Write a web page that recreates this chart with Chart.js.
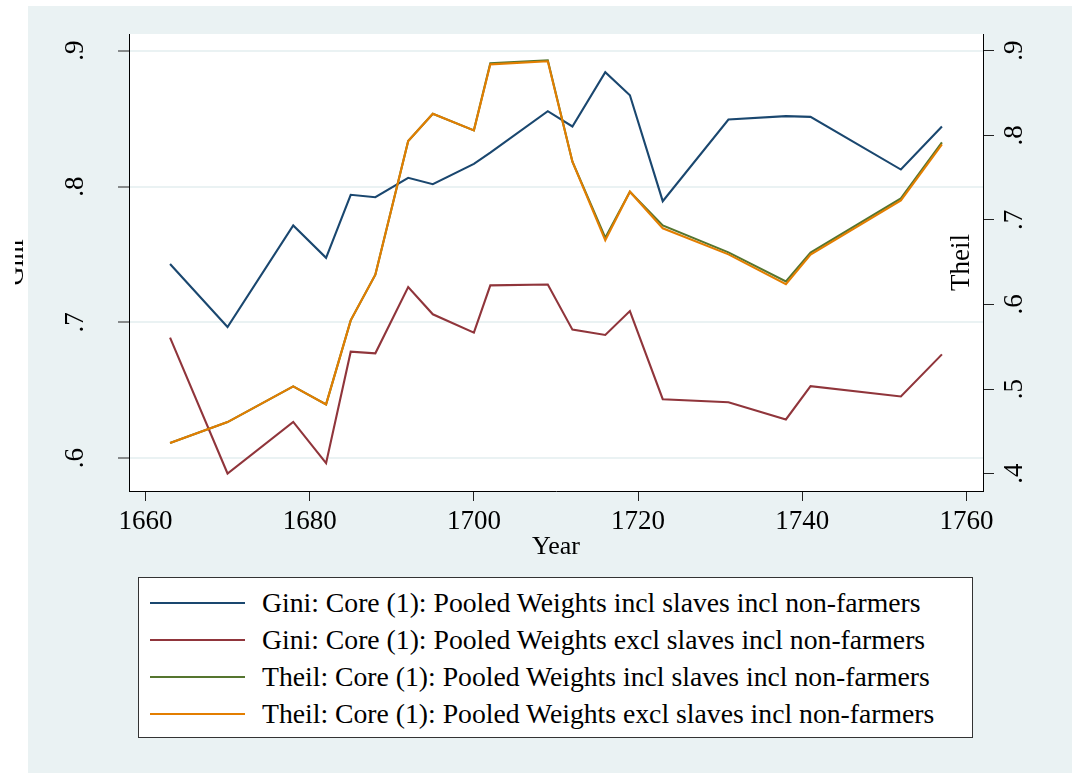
<!DOCTYPE html>
<html>
<head>
<meta charset="utf-8">
<script src="https://cdn.jsdelivr.net/npm/chart.js@4.4.1/dist/chart.umd.min.js"></script>
<style>
    body { margin: 0; background: #fff; }
    #wrap { position: relative; width: 1072px; height: 773px; }
    #chart { position: absolute; left: 0; top: 0; }
    #legend {
        position: absolute; left: 138px; top: 577px; width: 835px; height: 161px;
        box-sizing: border-box; background: #fff; border: 1px solid #333;
        padding-top: 6px; font-family: 'Liberation Serif', serif; font-size: 27.7px; color: #000;
    }
    .row { position: relative; height: 37.1px; line-height: 37.1px; padding-left: 123px; white-space: nowrap; }
    .swatch { position: absolute; left: 11px; top: 17.5px; width: 95px; height: 2px; }
</style>
</head>
<body>
<div id="wrap">
    <canvas id="chart" width="1072" height="773"></canvas>
    <div id="legend"></div>
</div>
<script>
// survey years
const years = [1663, 1670, 1678, 1682, 1685, 1688, 1692, 1695, 1700, 1702, 1709, 1712, 1716, 1719, 1723, 1731, 1738, 1741, 1752, 1757]

// Gini, left axis
const giniInclSlaves = [.743, .6965, .7713, .7475, .7939, .7921, .8064, .8017, .8167, .825, .8555, .8442, .8842, .8672, .7892, .8493, .8518, .8513, .8125, .8442]
const giniExclSlaves = [.6887, .5887, .6267, .5963, .6784, .6772, .726, .7059, .6924, .7272, .7278, .6946, .6907, .7083, .6434, .6412, .6285, .653, .6454, .6764]

// Theil, right axis
const theilInclSlaves = [.4362, .461, .5032, .4819, .5812, .6352, .7931, .8255, .8058, .885, .8886, .7688, .679, .7333, .6935, .6616, .6273, .6612, .7254, .7916]
const theilExclSlaves = [.4362, .461, .5032, .4819, .5812, .6352, .7931, .8255, .8058, .8838, .8874, .7688, .6758, .7333, .69, .6592, .6241, .6589, .723, .7892]

const seriesLabels = [
    'Gini: Core (1): Pooled Weights incl slaves incl non-farmers',
    'Gini: Core (1): Pooled Weights excl slaves incl non-farmers',
    'Theil: Core (1): Pooled Weights incl slaves incl non-farmers',
    'Theil: Core (1): Pooled Weights excl slaves incl non-farmers'
]
const seriesColours = ['#1a476f', '#90353b', '#55752f', '#e37e00']

const yearTicks = [1660, 1680, 1700, 1720, 1740, 1760]
const giniTicks = [.6, .7, .8, .9]
const giniTickLabels = ['.6', '.7', '.8', '.9']
const theilTicks = [.4, .5, .6, .7, .8, .9]
const theilTickLabels = ['.4', '.5', '.6', '.7', '.8', '.9']

const xTitle = 'Year'
const leftTitle = 'Gini'
const rightTitle = 'Theil'

const serif = 'Liberation Serif'
const bg = '#eaf2f3'

function pairs(values) {
    return values.map((v, i) => ({ x: years[i], y: v }))
}

// fixed axis boxes, no extra label padding from chart.js
function fixSize(prop, size) {
    return (s) => {
        s[prop] = size
        s.paddingTop = 0
        s.paddingBottom = 0
        s.paddingLeft = 0
        s.paddingRight = 0
    }
}

const backdrop = {
    id: 'backdrop',
    beforeDraw(chart) {
        const { ctx, chartArea: a, width, height } = chart
        ctx.save()
        ctx.fillStyle = '#fff'
        ctx.fillRect(0, 0, width, height)
        ctx.fillStyle = bg
        ctx.fillRect(28, 6, width - 28, height - 6)
        ctx.fillStyle = '#fff'
        ctx.fillRect(a.left, a.top, a.right - a.left, a.bottom - a.top)
        ctx.restore()
    },
    afterDraw(chart) {
        // stata puts both y titles in odd places, draw them by hand
        const { ctx, chartArea: a } = chart
        const midY = (a.top + a.bottom) / 2
        ctx.save()
        ctx.fillStyle = '#000'
        ctx.font = '26px "' + serif + '"'
        ctx.textAlign = 'center'
        ctx.textBaseline = 'alphabetic'

        ctx.save()
        ctx.beginPath()
        ctx.rect(15, 0, 20, chart.height)
        ctx.clip()
        ctx.translate(a.left - 106, midY)
        ctx.rotate(-Math.PI / 2)
        ctx.fillText(leftTitle, 0, 0)
        ctx.restore()

        ctx.font = '27px "' + serif + '"'
        ctx.translate(a.right - 14, midY)
        ctx.rotate(-Math.PI / 2)
        ctx.fillText(rightTitle, 0, 0)
        ctx.restore()
    }
}

const tickFont = { family: serif, size: 27 }

const config = {
    type: 'line',
    data: {
        datasets: [
            { label: seriesLabels[0], data: pairs(giniInclSlaves), yAxisID: 'y', borderColor: seriesColours[0], order: 3 },
            { label: seriesLabels[1], data: pairs(giniExclSlaves), yAxisID: 'y', borderColor: seriesColours[1], order: 2 },
            { label: seriesLabels[2], data: pairs(theilInclSlaves), yAxisID: 'y1', borderColor: seriesColours[2], order: 1 },
            { label: seriesLabels[3], data: pairs(theilExclSlaves), yAxisID: 'y1', borderColor: seriesColours[3], order: 0 }
        ]
    },
    options: {
        responsive: false,
        animation: false,
        layout: { padding: { left: 0, top: 34, right: 0, bottom: 210 } },
        elements: {
            line: { borderWidth: 2.1, tension: 0, fill: false },
            point: { radius: 0, hoverRadius: 0 }
        },
        plugins: {
            legend: { display: false },
            tooltip: { enabled: false }
        },
        scales: {
            x: {
                type: 'linear',
                min: 1658,
                max: 1762,
                afterBuildTicks: (s) => { s.ticks = yearTicks.map(v => ({ value: v })) },
                afterFit: fixSize('height', 72),
                ticks: { font: tickFont, color: '#000', padding: 5, autoSkip: false, maxRotation: 0, callback: (v) => String(v) },
                grid: { drawOnChartArea: false, tickLength: 10, tickColor: '#222', tickWidth: 1 },
                border: { color: '#000', width: 1 },
                title: { display: true, text: xTitle, font: { family: serif, size: 26 }, color: '#000', padding: 0 }
            },
            y: {
                position: 'left',
                min: .5758,
                max: .9123,
                afterBuildTicks: (s) => { s.ticks = giniTicks.map(v => ({ value: v })) },
                afterFit: fixSize('width', 129),
                ticks: {
                    font: tickFont, color: '#000', padding: 32, autoSkip: false,
                    minRotation: 90, maxRotation: 90, crossAlign: 'center',
                    callback: (v) => giniTickLabels[giniTicks.indexOf(v)]
                },
                grid: { color: bg, lineWidth: 2, tickLength: 11, tickColor: '#222', tickWidth: 1 },
                border: { color: '#000', width: 1 }
            },
            y1: {
                position: 'right',
                min: .3795,
                max: .9197,
                afterBuildTicks: (s) => { s.ticks = theilTicks.map(v => ({ value: v })) },
                afterFit: fixSize('width', 89),
                ticks: {
                    font: tickFont, color: '#000', padding: 11, autoSkip: false,
                    minRotation: 90, maxRotation: 90, crossAlign: 'center',
                    callback: (v) => theilTickLabels[theilTicks.indexOf(v)]
                },
                grid: { drawOnChartArea: false, tickLength: 11, tickColor: '#222', tickWidth: 1 },
                border: { color: '#000', width: 1 }
            }
        }
    },
    plugins: [backdrop]
}

const chart = new Chart(document.getElementById('chart'), config)

// legend box under the plot
const legend = document.getElementById('legend')
seriesLabels.forEach((label, i) => {
    const row = document.createElement('div')
    row.className = 'row'
    const sw = document.createElement('span')
    sw.className = 'swatch'
    sw.style.background = seriesColours[i]
    row.appendChild(sw)
    row.appendChild(document.createTextNode(label))
    legend.appendChild(row)
})
</script>
</body>
</html>
